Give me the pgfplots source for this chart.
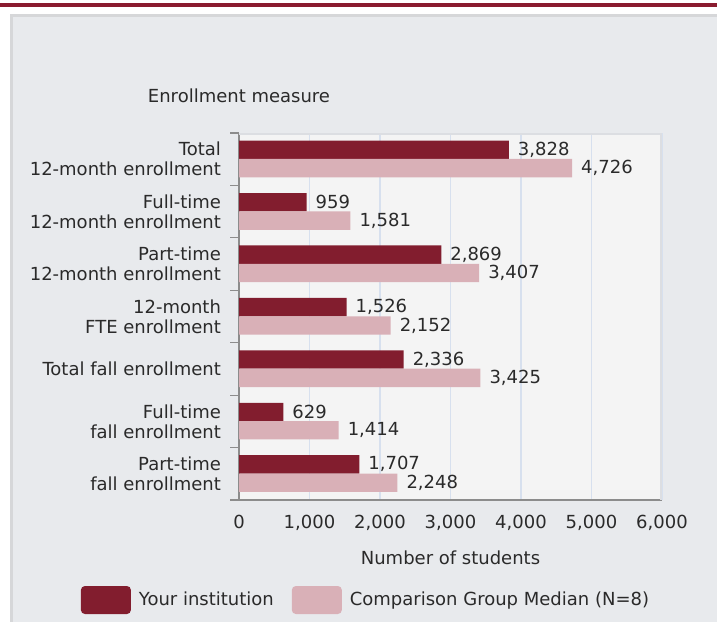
\documentclass[border=0pt]{standalone}
\usepackage{fontspec}
\setmainfont{DejaVu Sans}
\usepackage{pgfplots}
\pgfplotsset{compat=1.18}

\definecolor{topred}{HTML}{8A1B2F}
\definecolor{panelbg}{HTML}{E8EAED}
\definecolor{panelborder}{HTML}{D6D7D9}
\definecolor{plotbg}{HTML}{F4F4F4}
\definecolor{plotborder}{HTML}{DCDEE2}
\definecolor{gridblue}{HTML}{D7E0EE}
\definecolor{axisgray}{HTML}{8C8C8C}
\definecolor{darkbar}{HTML}{821D2E}
\definecolor{lightbar}{HTML}{D9B0B7}
\definecolor{textcol}{HTML}{2A2A2A}

\begin{document}
\begin{tikzpicture}[font=\fontsize{9}{10}\selectfont]
    % page and panel
    \useasboundingbox (0,0) rectangle (358.5pt,-311pt);
    \fill[white] (0,0) rectangle (358.5pt,-311pt);
    \fill[topred] (0,-1.5pt) rectangle (358.5pt,-3.6pt);
    \fill[panelborder] (5pt,-7pt) rectangle (358.5pt,-311pt);
    \fill[panelbg] (6.5pt,-8.3pt) rectangle (358.5pt,-311pt);

    \begin{axis}[
        at = {(119.5pt,-250pt)}, anchor = south west,
        scale only axis, width = 211.5pt, height = 183.5pt,
        xmin = 0, xmax = 6000,
        ymin = -0.5, ymax = 6.5,
        xtick = {0,1000,...,6000},
        ytick = {0,...,6},
        yticklabels = {{Part-time\\fall enrollment}, {Full-time\\fall enrollment},
            {Total fall enrollment}, {12-month\\FTE enrollment},
            {Part-time\\12-month enrollment}, {Full-time\\12-month enrollment},
            {Total\\12-month enrollment}},
        minor ytick = {-0.5,0.5,...,6.5},
        major tick length = 0pt, minor tick length = 4.5pt,
        tick align = outside,
        minor tick style = {axisgray, line width = 0.6pt},
        axis x line = bottom, axis y line = left,
        axis line style = {-, draw = axisgray, line width = 0.6pt},
        axis background/.style = {fill = plotbg},
        xmajorgrids,
        grid style = {gridblue, line width = 0.7pt},
        ticklabel style = {font = \fontsize{9}{10}\selectfont, text = textcol},
        x tick label style = {yshift = -4pt},
        y tick label style = {align = right, xshift = -5.5pt},
        /pgf/number format/fixed,
        /pgf/number format/precision = 0,
        /pgf/number format/1000 sep = {,},
        /pgf/number format/assume math mode = true,
        title = {Enrollment measure},
        title style = {at = {(axis description cs:0,1)}, anchor = center,
            yshift = 12.5pt, text = textcol},
        xlabel = {Number of students},
        xlabel style = {at = {(axis description cs:0.5,0)}, anchor = center,
            yshift = -29pt, text = textcol},
        xbar, bar width = 0.35,
        point meta = x,
        nodes near coords,
        every node near coord/.append style = {font = \fontsize{9}{10}\selectfont,
            text = textcol, anchor = west, xshift = 1pt},
        legend style = {at = {(axis description cs:0.3026,-0.2725)}, anchor = center,
            draw = none, fill = none, legend columns = 2,
            font = \fontsize{9}{10}\selectfont, text = textcol,
            /tikz/every odd column/.append style = {column sep = 2pt},
            /tikz/every even column/.append style = {column sep = 7pt}},
        legend image code/.code = {\fill[#1, rounded corners = 2pt] (0pt,-7pt) rectangle (25pt,7pt);},
    ]
        \addplot [fill = darkbar, draw = none, bar shift = 0.18, forget plot] coordinates {
            (3828,6) (959,5) (2869,4) (1526,3) (2336,2) (629,1) (1707,0)
        };
        \addplot [fill = lightbar, draw = none, bar shift = -0.17, forget plot] coordinates {
            (4726,6) (1581,5) (3407,4) (2152,3) (3425,2) (1414,1) (2248,0)
        };
        \addlegendimage{fill = darkbar, draw = none}
        \addlegendentry{Your institution}
        \addlegendimage{fill = lightbar, draw = none}
        \addlegendentry{Comparison Group Median (N=8)}

        \draw[plotborder, line width = 1.5pt]
            (rel axis cs:0,1) -- (rel axis cs:1,1) -- (rel axis cs:1,0);
    \end{axis}
\end{tikzpicture}
\end{document}
